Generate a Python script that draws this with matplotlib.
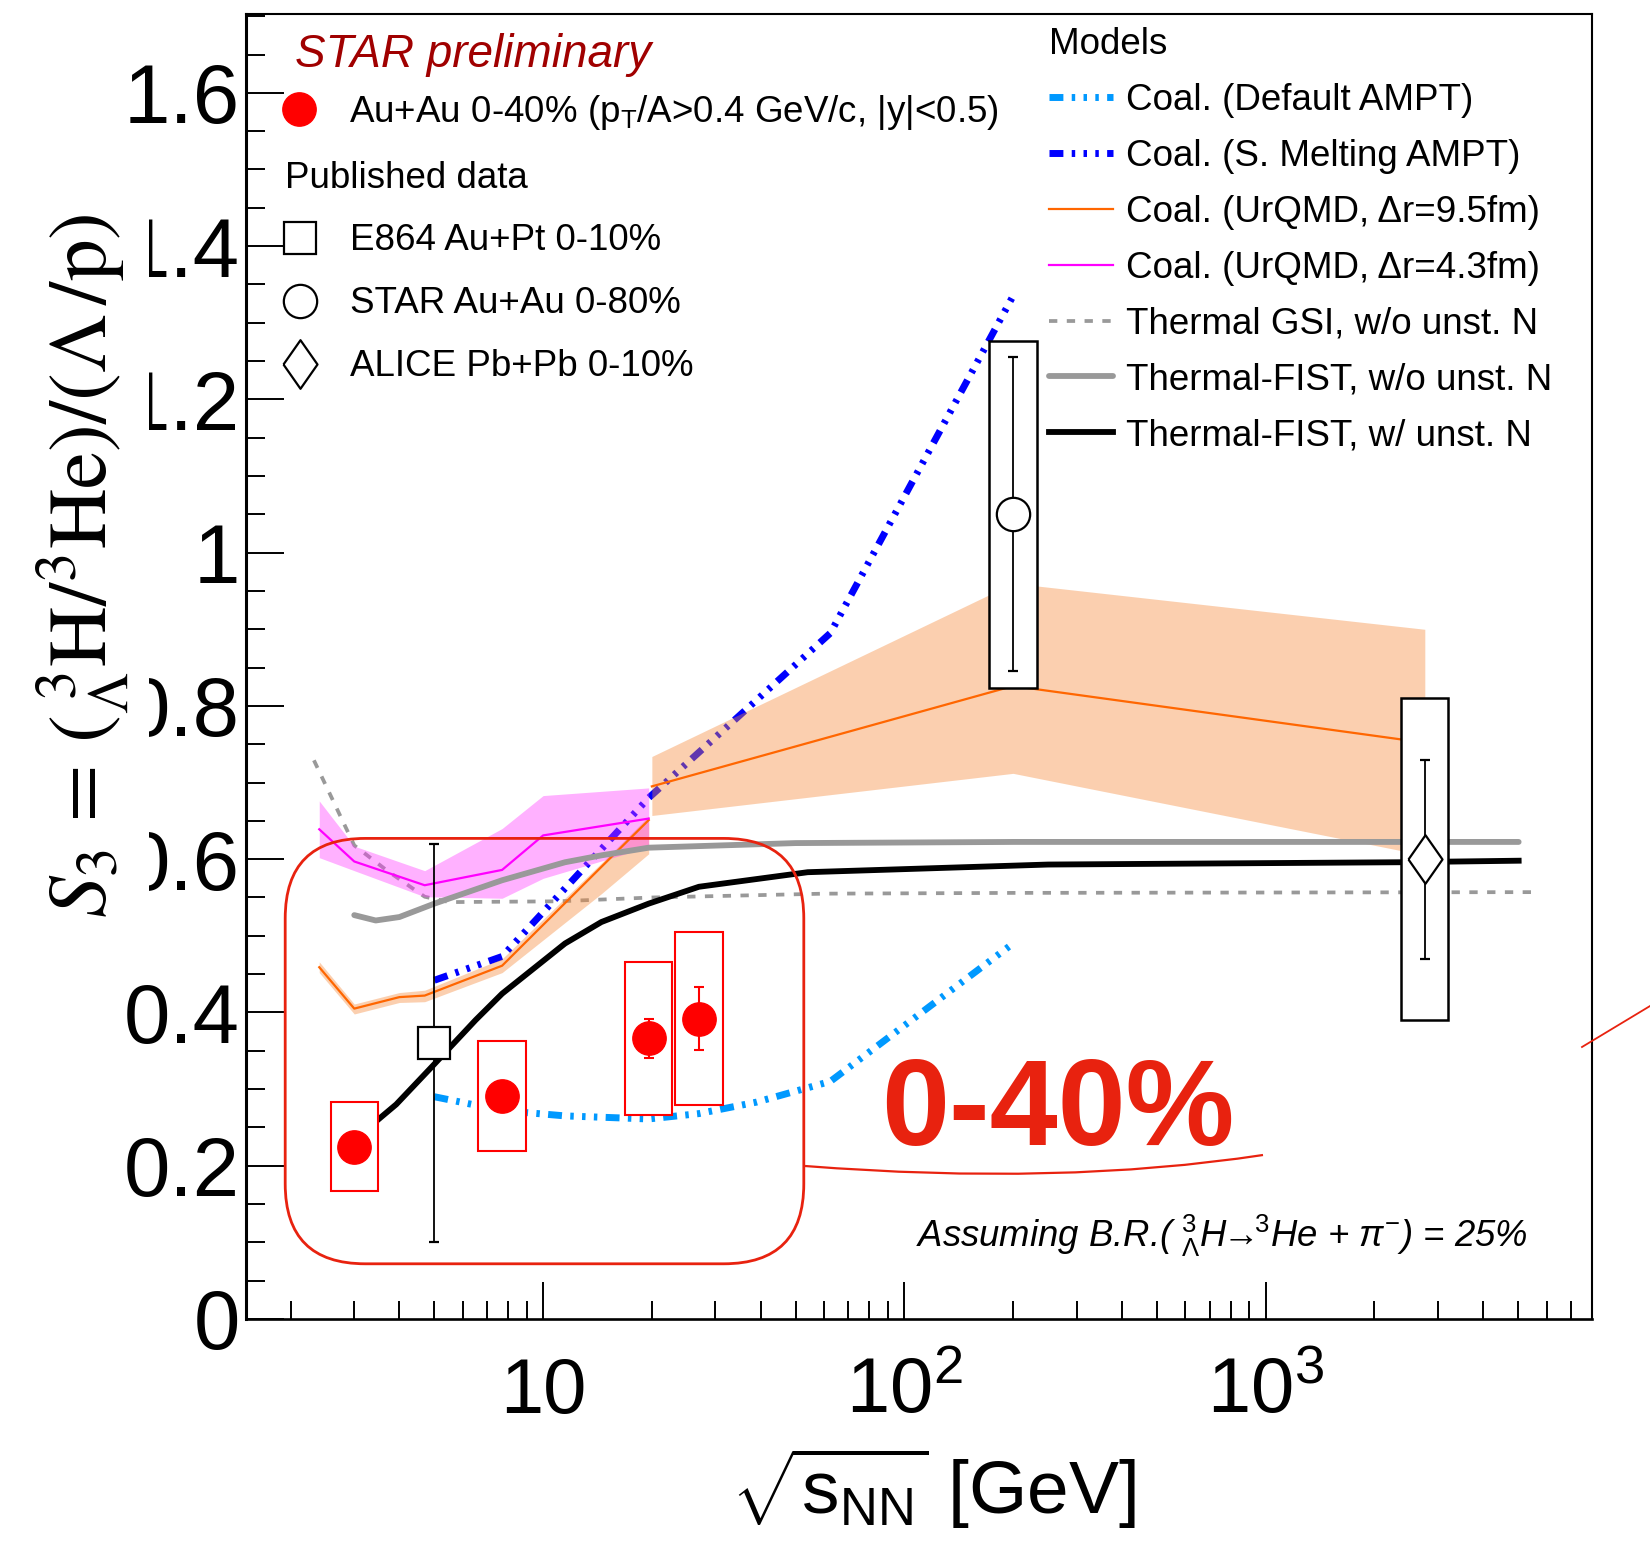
import matplotlib
matplotlib.use("Agg")
import matplotlib.pyplot as plt
from matplotlib.patches import Rectangle, FancyBboxPatch, PathPatch
from matplotlib.path import Path
from matplotlib.lines import Line2D
from matplotlib.ticker import FixedLocator, FixedFormatter, MultipleLocator, LogLocator, NullFormatter

plt.rcParams["font.family"] = ["Liberation Sans", "DejaVu Sans"]
plt.rcParams["mathtext.fontset"] = "custom"
plt.rcParams["mathtext.rm"] = "Liberation Sans"
plt.rcParams["mathtext.it"] = "Liberation Sans:italic"
plt.rcParams["mathtext.bf"] = "Liberation Sans:bold"
plt.rcParams["lines.scale_dashes"] = False

# ---------------- data ----------------
# STAR preliminary Au+Au 0-40%
star_x = [3.0, 7.7, 19.6, 27.0]
star_y = [0.225, 0.291, 0.366, 0.392]
star_stat = [0.017, 0.012, 0.025, 0.041]
star_sys = [0.058, 0.072, 0.100, 0.113]

# published data
e864_x = [5.0]
e864_y = [0.36]
e864_err = [0.26]

star80_x = [200.0]
star80_y = [1.05]
star80_stat = [0.205]
star80_sys = [0.226]

alice_x = [2760.0]
alice_y = [0.60]
alice_stat = [0.13]
alice_sys = [0.21]

# models
ampt_def_x = [5.0, 7.7, 11.5, 19.6, 27.0, 39.0, 62.4, 200.0]
ampt_def_y = [0.290, 0.272, 0.265, 0.261, 0.268, 0.283, 0.310, 0.490]

ampt_sm_x = [5.0, 7.7, 19.6, 62.4, 200.0]
ampt_sm_y = [0.442, 0.473, 0.680, 0.895, 1.335]

u95_lo_x = [2.4, 3.0, 4.0, 4.7, 7.7, 14.5, 19.6]
u95_lo_y = [0.459, 0.405, 0.420, 0.422, 0.461, 0.590, 0.651]
u95_lo_low = [0.452, 0.398, 0.413, 0.414, 0.452, 0.555, 0.607]
u95_lo_up = [0.466, 0.411, 0.426, 0.429, 0.470, 0.595, 0.656]

u95_hi_x = [20.0, 200.0, 2760.0]
u95_hi_y = [0.695, 0.826, 0.752]
u95_hi_low = [0.657, 0.712, 0.605]
u95_hi_up = [0.734, 0.960, 0.900]

u43_x = [2.4, 3.0, 4.7, 7.7, 10.0, 19.6]
u43_y = [0.639, 0.597, 0.566, 0.586, 0.631, 0.653]
u43_low = [0.602, 0.585, 0.551, 0.549, 0.575, 0.616]
u43_up = [0.676, 0.617, 0.585, 0.640, 0.683, 0.693]

gsi_x = [2.32, 3.0, 3.7, 4.7, 5.5, 11.0, 20.0, 60.0, 200.0, 5500.0]
gsi_y = [0.729, 0.618, 0.585, 0.551, 0.544, 0.545, 0.550, 0.555, 0.556, 0.557]

fist_x = [3.0, 3.44, 4.0, 5.0, 7.7, 11.5, 14.5, 19.6, 50.0, 200.0, 5020.0]
fist_y = [0.527, 0.520, 0.5245, 0.542, 0.5725, 0.596, 0.605, 0.615, 0.621, 0.6225, 0.6225]

fist_unst_x = [3.0, 3.47, 3.92, 4.94, 6.5, 7.7, 11.5, 14.5, 19.6, 27.0, 54.0, 250.0, 2360.0, 5020.0]
fist_unst_y = [0.235, 0.259, 0.280, 0.330, 0.390, 0.4245, 0.490, 0.518, 0.542, 0.564, 0.583, 0.593, 0.596, 0.598]

model_labels = ["Coal. (Default AMPT)", "Coal. (S. Melting AMPT)",
                "Coal. (UrQMD, \u0394r=9.5fm)", "Coal. (UrQMD, \u0394r=4.3fm)",
                "Thermal GSI, w/o unst. N", "Thermal-FIST, w/o unst. N",
                "Thermal-FIST, w/ unst. N"]
pub_labels = ["E864 Au+Pt 0-10%", "STAR Au+Au 0-80%", "ALICE Pb+Pb 0-10%"]
star_label = "Au+Au 0-40% (p$_{\\mathrm{T}}$/A>0.4 GeV/c, |y|<0.5)"

ytick_vals = [0, 0.2, 0.4, 0.6, 0.8, 1.0, 1.2, 1.4, 1.6]
ytick_labels = ["0", "0.2", "0.4", "0.6", "0.8", "1", "1.2", "1.4", "1.6"]
xtick_vals = [10, 100, 1000]
xtick_labels = ["10", r"$\mathdefault{10^{2}}$", r"$\mathdefault{10^{3}}$"]

# ---------------- figure ----------------
fig = plt.figure(figsize=(16.5, 15.47), dpi=100)
ax = fig.add_axes([0.1488, 0.1474, 0.8159, 0.8436])
inch = fig.dpi_scale_trans


def px(x, y):
    # full-size pixel position -> inches from lower left
    return x / 100.0, (1547 - y) / 100.0


ampt_dash = (10, 6, 2.5, 6, 2.5, 6, 2.5, 6)
l_gsi, = ax.plot(gsi_x, gsi_y, color="#999999", lw=2.7, dashes=(6, 6.8), zorder=2)
l_def, = ax.plot(ampt_def_x, ampt_def_y, color="#0099ff", lw=5, dashes=ampt_dash,
                 dash_capstyle="butt", zorder=2)
l_sm, = ax.plot(ampt_sm_x, ampt_sm_y, color="#0000ff", lw=5, dashes=ampt_dash,
                dash_capstyle="butt", zorder=2)

ax.fill_between(u95_lo_x, u95_lo_low, u95_lo_up, color="#f58939", alpha=0.4, lw=0, zorder=3)
ax.fill_between(u95_hi_x, u95_hi_low, u95_hi_up, color="#f58939", alpha=0.4, lw=0, zorder=3)
ax.fill_between(u43_x, u43_low, u43_up, color="#ff33ff", alpha=0.38, lw=0, zorder=3)

l_u95, = ax.plot(u95_lo_x, u95_lo_y, color="#ff6600", lw=1.6, zorder=4)
ax.plot(u95_hi_x, u95_hi_y, color="#ff6600", lw=1.6, zorder=4)
l_u43, = ax.plot(u43_x, u43_y, color="#ff00ff", lw=1.6, zorder=4)
l_fist, = ax.plot(fist_x, fist_y, color="#999999", lw=4.2, solid_capstyle="round", zorder=4)
l_unst, = ax.plot(fist_unst_x, fist_unst_y, color="black", lw=4.2, zorder=4)

# systematic boxes
hw = 0.0655
for xc, yc, s in zip(star_x, star_y, star_sys):
    ax.add_patch(Rectangle((xc * 10 ** -hw, yc - s), xc * (10 ** hw - 10 ** -hw), 2 * s,
                           facecolor="white", edgecolor="red", lw=1.5, zorder=5))
for xs, ys, ss in [(star80_x, star80_y, star80_sys), (alice_x, alice_y, alice_sys)]:
    for xc, yc, s in zip(xs, ys, ss):
        ax.add_patch(Rectangle((xc * 10 ** -hw, yc - s), xc * (10 ** hw - 10 ** -hw), 2 * s,
                               facecolor="white", edgecolor="black", lw=1.8, zorder=5))

diamond = [(-0.35, 0), (0, 0.5), (0.35, 0), (0, -0.5), (-0.35, 0)]
eb = dict(ecolor="black", elinewidth=1.3, capsize=3.3, capthick=1.3, mfc="white",
          mec="black", mew=1.6, ls="none", zorder=6)
ax.errorbar(e864_x, e864_y, yerr=e864_err, marker="s", ms=23, **eb)
ax.errorbar(star80_x, star80_y, yerr=star80_stat, marker="o", ms=24, **eb)
ax.errorbar(alice_x, alice_y, yerr=alice_stat, marker=diamond, ms=35, **eb)
ax.errorbar(star_x, star_y, yerr=star_stat, marker="o", ms=24, color="red", ecolor="red",
            elinewidth=1.5, capsize=3.3, capthick=1.5, ls="none", zorder=7)

# axes
ax.set_xscale("log")
ax.set_xlim(1.5, 8000)
ax.set_ylim(0, 1.703)
ax.xaxis.set_major_locator(FixedLocator(xtick_vals))
ax.xaxis.set_major_formatter(FixedFormatter(xtick_labels))
ax.xaxis.set_minor_locator(LogLocator(base=10, subs=range(2, 10), numticks=50))
ax.xaxis.set_minor_formatter(NullFormatter())
ax.yaxis.set_major_locator(FixedLocator(ytick_vals))
ax.yaxis.set_major_formatter(FixedFormatter(ytick_labels))
ax.yaxis.set_minor_locator(MultipleLocator(0.05))
ax.tick_params(which="both", direction="in", top=False, right=False, width=1.4)
ax.tick_params(axis="y", which="major", length=27, labelsize=60, pad=4)
ax.tick_params(axis="y", which="minor", length=13.5)
ax.tick_params(axis="x", which="major", length=27, labelsize=56, pad=27)
ax.tick_params(axis="x", which="minor", length=13)
for side, w in [("left", 2.2), ("bottom", 1.9), ("top", 1.5), ("right", 1.5)]:
    ax.spines[side].set_linewidth(w)

ax.set_xlabel(r"$\sqrt{\mathrm{s}_{\mathrm{NN}}}$ [GeV]", fontsize=54)
ax.xaxis.set_label_coords(0.511, -0.097)

# y label with white backing (covers parts of the tick labels as in the original)
fig.add_artist(Rectangle(px(0, 935), 1.485, (935 - 180) / 100.0, transform=inch,
                         facecolor="white", edgecolor="none", zorder=1))
fig.text(*px(84, 566), r"$S_{3}\,=\,({}^{\ 3}_{\Lambda}\mathrm{H}/{}^{3}\mathrm{He})/(\Lambda\,/\mathrm{p})$",
         transform=inch, rotation=90, ha="center", va="center", fontsize=60,
         math_fontfamily="stix", zorder=3)

# legends
fs = 26.5
model_handles = [l_def, l_sm, l_u95, l_u43, l_gsi, l_fist, l_unst]
leg_r = ax.legend(model_handles, model_labels, loc="upper left", bbox_to_anchor=px(1049, 27.5),
                  bbox_transform=inch, frameon=False, fontsize=fs, title="Models",
                  title_fontsize=fs, alignment="left", handlelength=1.75, handletextpad=0.35,
                  labelspacing=0.565, borderpad=0, borderaxespad=0)
ax.add_artist(leg_r)

h_star = Line2D([], [], marker="o", ms=24, color="red", ls="none")
leg_a = ax.legend([h_star], [star_label], loc="upper left", bbox_to_anchor=px(284, 93),
                  bbox_transform=inch, frameon=False, fontsize=fs, handlelength=0.815,
                  handletextpad=0.94, borderpad=0, borderaxespad=0)
ax.add_artist(leg_a)

pub_handles = [Line2D([], [], marker="s", ms=23, mfc="white", mec="black", mew=1.6, ls="none"),
               Line2D([], [], marker="o", ms=24, mfc="white", mec="black", mew=1.6, ls="none"),
               Line2D([], [], marker=diamond, ms=35, mfc="white", mec="black", mew=1.6, ls="none")]
leg_b = ax.legend(pub_handles, pub_labels, loc="upper left", bbox_to_anchor=px(285, 160.5),
                  bbox_transform=inch, frameon=False, fontsize=fs, title="Published data",
                  title_fontsize=fs, alignment="left", handlelength=0.815, handletextpad=0.94,
                  labelspacing=0.76, borderpad=0, borderaxespad=0)

fig.text(*px(295, 66.7), "STAR preliminary", transform=inch, fontsize=33, style="italic",
         color="#a00000", ha="left", va="baseline")

fig.text(*px(1222, 1247),
         "Assuming B.R.( ${}^{3}_{\\Lambda}$H$\\!\\!\\rightarrow\\!\\!{}^{3}$He + $\\pi^{-}$) = 25%",
         transform=inch, fontsize=26.3, style="italic", ha="center", va="baseline")

# highlighted region and label
red = "#e8220f"
fig.add_artist(FancyBboxPatch(px(285.2, 1263.8), 5.186, 4.254, transform=inch,
                              boxstyle="round,pad=0,rounding_size=0.8", fill=False,
                              edgecolor=red, lw=2.0, zorder=8))
curve = Path([px(805, 1166), px(1060, 1186), px(1263, 1155)],
             [Path.MOVETO, Path.CURVE3, Path.CURVE3])
fig.add_artist(PathPatch(curve, transform=inch, fill=False, edgecolor=red, lw=1.6, zorder=8))
fig.add_artist(Line2D([15.82, 16.6], [5.00, 5.47], transform=inch, color=red, lw=1.3))
fig.text(*px(1057.5, 1145), "0-40%", transform=inch, fontsize=88, fontweight="bold",
         color=red, ha="center", va="baseline")

fig.savefig("out.png", dpi=100)
